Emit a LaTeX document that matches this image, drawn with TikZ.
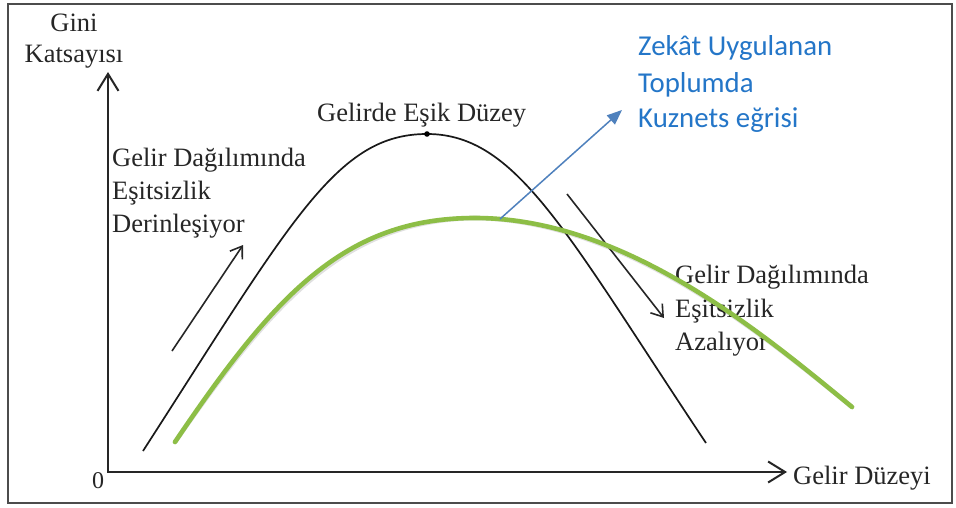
\documentclass[tikz,border=0pt]{standalone}
\usepackage{fontspec}
\setmainfont{Liberation Serif}
\newfontfamily\blfont{Carlito}
\usetikzlibrary{arrows.meta}
\definecolor{zblue}{RGB}{36,118,200}
\definecolor{arrblue}{RGB}{79,129,189}
\definecolor{kgreen}{RGB}{141,190,70}
\tikzset{
  bigbarb/.tip={Straight Barb[length=17pt, width=21pt, line width=2pt]},
  smallbarb/.tip={Straight Barb[length=11pt, width=15pt, line width=1.6pt]},
  bluetri/.tip={Triangle[length=15pt, width=12pt]}
}
\begin{document}
\begin{tikzpicture}[x=1pt,y=-1pt,
  lbl/.style={anchor=base west, inner sep=0pt, font=\fontsize{26.5}{32}\selectfont, text=black!85},
  clbl/.style={lbl, anchor=base},
  blbl/.style={anchor=base west, inner sep=0pt, font=\blfont\fontsize{28.8}{34}\selectfont, text=zblue},
  frame/.style={draw=black!70, line width=2.2pt},
  axis/.style={line width=2pt, black!85},
  trend/.style={line width=1.6pt, black!85},
  kcurve/.style={line width=1.7pt, black!90},
  gcurve/.style={line width=4.6pt, kgreen, line cap=round},
  barrow/.style={line width=1.5pt, arrblue, -bluetri}
]
\useasboundingbox (0,0) rectangle (956,508);
\fill[white] (0,0) rectangle (956,508);
\draw[frame] (8,4) rectangle (952,503);

% axes
\coordinate (O) at (108,472);
\coordinate (ytip) at (108,72);
\coordinate (xtip) at (787,472);
\draw[axis, bigbarb-bigbarb] (ytip) -- (O) -- (xtip);

% axis labels
\node[clbl] (gini) at (74,32) {Gini};
\node[clbl] (kats) at (74,63) {Katsayısı};
\node[lbl, font=\fontsize{24}{28}\selectfont] (zero) at (92,488) {0};
\node[lbl] (gduz) at (793,484) {Gelir Düzeyi};

% black curve
\coordinate (kstart) at (143,451);
\coordinate (peak) at (427,134);
\coordinate (kend) at (706,443);
\draw[kcurve] (kstart) .. controls (293,218) and (337,134) .. (peak)
  .. controls (517,134) and (566,233) .. (kend);
\fill[black] (peak) circle (2.8pt);
\node[lbl] (esik) at (317,122) {Gelirde Eşik Düzey};

% left text and arrow
\node[lbl] (l1) at (112,167) {Gelir Dağılımında};
\node[lbl] (l2) at (112,199) {Eşitsizlik};
\node[lbl] (l3) at (112,232) {Derinleşiyor};
\coordinate (la) at (172,351);
\coordinate (lb) at (243,245);
\draw[trend, -smallbarb] (la) -- (lb);

% right text and arrow
\node[lbl] (r1) at (675,283) {Gelir Dağılımında};
\node[lbl] (r2) at (675,317) {Eşitsizlik};
\node[lbl] (r3) at (675,350) {Azalıyor};
\coordinate (ra) at (567,194);
\coordinate (rb) at (664,318);
\draw[trend, -smallbarb] (ra) -- (rb);

% green curve with faint shadow
\coordinate (gstart) at (175,442);
\coordinate (gpeak) at (475,218);
\coordinate (gend) at (852,407);
\draw[line width=4.6pt, black, opacity=0.12, line cap=round, shift={(1.5,2.5)}]
  (gstart) .. controls (275,294) and (345,218) .. (gpeak)
  .. controls (625,218) and (762,333) .. (gend);
\draw[gcurve] (gstart) .. controls (275,294) and (345,218) .. (gpeak)
  .. controls (625,218) and (762,333) .. (gend);

% blue arrow and label
\coordinate (gs) at (500,219);
\coordinate (gt) at (622,110);
\draw[barrow] (gs) -- (gt);
\node[blbl] (b1) at (638,56) {Zekât Uygulanan};
\node[blbl] (b2) at (638,93) {Toplumda};
\node[blbl] (b3) at (638,128) {Kuznets eğrisi};
\end{tikzpicture}
\end{document}
